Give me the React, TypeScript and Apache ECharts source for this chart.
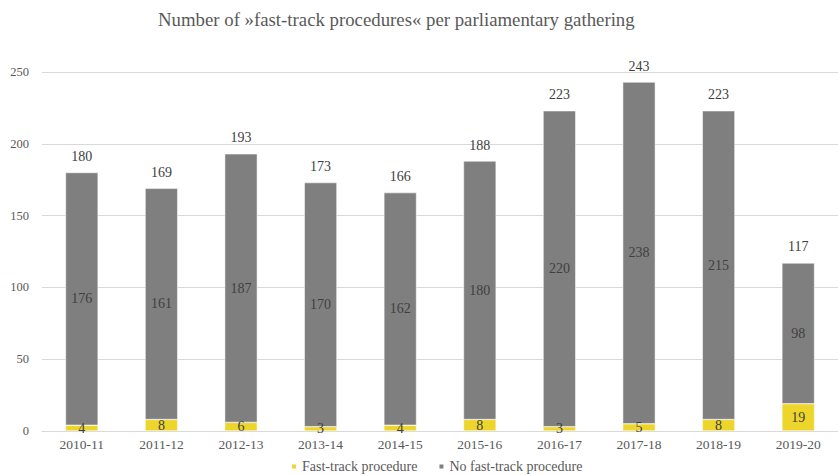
import React, { useEffect, useRef } from "react";
import * as echarts from "echarts";

const categories = ["2010-11", "2011-12", "2012-13", "2013-14", "2014-15", "2015-16", "2016-17", "2017-18", "2018-19", "2019-20"];
const fastTrack = [4, 8, 6, 3, 4, 8, 3, 5, 8, 19];
const noFastTrack = [176, 161, 187, 170, 162, 180, 220, 238, 215, 98];
const totals = [180, 169, 193, 173, 166, 188, 223, 243, 223, 117];
const yTicks = [0, 50, 100, 150, 200, 250];

const FONT = "'Liberation Serif', 'Times New Roman', serif";

export default function App() {
  const ref = useRef<HTMLDivElement>(null);
  useEffect(() => {
    if (!ref.current) return;
    const chart = echarts.init(ref.current, null, { renderer: "svg" });
    chart.setOption({
      animation: false,
      backgroundColor: "#ffffff",
      title: {
        text: "Number of »fast-track procedures« per parliamentary gathering",
        left: 153,
        top: 5,
        textStyle: { fontFamily: FONT, fontSize: 18.8, fontWeight: "normal", color: "#595959" },
      },
      legend: {
        top: 459,
        left: 290,
        padding: 0,
        itemWidth: 6,
        itemHeight: 6,
        itemGap: 20,
        icon: "rect",
        textStyle: { fontFamily: FONT, fontSize: 14, lineHeight: 15, color: "#595959" },
        data: ["Fast-track procedure", "No fast-track procedure"],
      },
      grid: { left: 42, top: 72, width: 807, bottom: 44, containLabel: false },
      xAxis: {
        type: "category",
        data: categories,
        axisLine: { lineStyle: { color: "#d9d9d9" } },
        axisTick: { show: false },
        axisLabel: { fontFamily: FONT, fontSize: 13.5, color: "#595959", margin: 6 },
      },
      yAxis: {
        type: "value",
        min: yTicks[0],
        max: yTicks[yTicks.length - 1],
        interval: 50,
        axisLine: { show: false },
        axisTick: { show: false },
        splitLine: { lineStyle: { color: "#d9d9d9" } },
        axisLabel: { fontFamily: FONT, fontSize: 12.5, color: "#595959", margin: 13 },
      },
      series: [
        {
          name: "Fast-track procedure",
          type: "bar",
          stack: "s",
          data: fastTrack,
          barWidth: "41%",
          itemStyle: { color: "#edd52b", borderColor: "#ffffff", borderWidth: 0.5 },
          label: { show: true, position: "inside", fontFamily: FONT, fontSize: 14, color: "#404040" },
        },
        {
          name: "No fast-track procedure",
          type: "bar",
          stack: "s",
          data: noFastTrack,
          itemStyle: { color: "#7f7f7f", borderColor: "#ffffff", borderWidth: 0.5 },
          label: { show: true, position: "inside", fontFamily: FONT, fontSize: 14, color: "#404040" },
        },
        {
          name: "Total",
          type: "bar",
          stack: "s",
          data: totals.map(() => 0),
          itemStyle: { color: "transparent" },
          label: {
            show: true,
            position: "top",
            distance: 9,
            fontFamily: FONT,
            fontSize: 14,
            color: "#404040",
            formatter: (p: any) => String(totals[p.dataIndex]),
          },
        },
      ],
    });
    return () => chart.dispose();
  }, []);
  return <div ref={ref} style={{ width: 838, height: 475, position: "absolute", left: 0, top: 0 }} />;
}
